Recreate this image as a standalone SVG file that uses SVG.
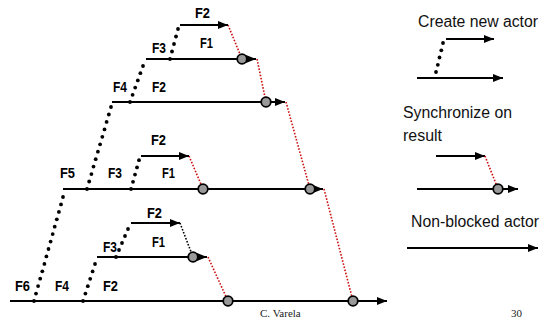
<svg xmlns="http://www.w3.org/2000/svg" width="545" height="320" viewBox="0 0 545 320">
<defs>
<marker id="arr" markerUnits="userSpaceOnUse" markerWidth="11" markerHeight="9" refX="10" refY="4" orient="auto">
<path d="M0,0 L10,4 L0,8 z" fill="#000"/>
</marker>
</defs>
<style>
.la{stroke:#000;stroke-width:2;fill:none;marker-end:url(#arr)}
.sync{stroke:#cc1111;stroke-width:1.6;stroke-dasharray:1.6 1.6;fill:none}
.syncb{stroke:#000;stroke-width:1.6;stroke-dasharray:1.6 1.6;fill:none}
.dot{fill:#000}
.ball{fill:#999;stroke:#000;stroke-width:1.8}
.lbl{font-family:"Liberation Sans",Arial,sans-serif;font-weight:bold;font-size:14.5px;fill:#000}
.leg{font-family:"Liberation Sans",Arial,sans-serif;font-size:16px;fill:#111}
.ft{font-family:"Liberation Serif","Times New Roman",serif;font-size:11px;fill:#222}
</style>
<rect width="545" height="320" fill="#fff"/>

<g id="connectors">
<line class="sync" x1="228" y1="25" x2="242" y2="59"/>
<line class="sync" x1="257" y1="59" x2="266" y2="102"/>
<line class="sync" x1="286" y1="102" x2="310" y2="189"/>
<line class="sync" x1="324" y1="189" x2="353" y2="301"/>
<line class="sync" x1="189" y1="156" x2="203" y2="189"/>
<line class="sync" x1="208" y1="257" x2="228" y2="301"/>
<line class="syncb" x1="180" y1="223" x2="193" y2="257"/>
<g id="create-bottom-l4" class="dot">
<circle cx="34" cy="301" r="1.9"/><circle cx="36" cy="293.6" r="1.9"/><circle cx="38.1" cy="286.1" r="1.9"/><circle cx="40.2" cy="278.7" r="1.9"/><circle cx="42.3" cy="271.3" r="1.9"/><circle cx="44.4" cy="263.9" r="1.9"/><circle cx="46.4" cy="256.4" r="1.9"/><circle cx="48.5" cy="249" r="1.9"/><circle cx="50.6" cy="241.6" r="1.9"/><circle cx="52.7" cy="234.1" r="1.9"/><circle cx="54.7" cy="226.7" r="1.9"/><circle cx="56.8" cy="219.3" r="1.9"/><circle cx="58.9" cy="211.9" r="1.9"/><circle cx="61" cy="204.4" r="1.9"/><circle cx="63" cy="197" r="1.9"/>
</g>
<g id="create-l4-l3" class="dot">
<circle cx="87" cy="189" r="1.9"/><circle cx="89.2" cy="181.5" r="1.9"/><circle cx="91.4" cy="174.1" r="1.9"/><circle cx="93.5" cy="166.6" r="1.9"/><circle cx="95.7" cy="159.2" r="1.9"/><circle cx="97.9" cy="151.7" r="1.9"/><circle cx="100.1" cy="144.3" r="1.9"/><circle cx="102.3" cy="136.8" r="1.9"/><circle cx="104.5" cy="129.4" r="1.9"/><circle cx="106.6" cy="121.9" r="1.9"/><circle cx="108.8" cy="114.5" r="1.9"/><circle cx="111" cy="107" r="1.9"/>
</g>
<g id="create-l3-l2" class="dot">
<circle cx="130" cy="102" r="1.9"/><circle cx="132.6" cy="94.8" r="1.9"/><circle cx="135.2" cy="87.6" r="1.9"/><circle cx="137.8" cy="80.4" r="1.9"/><circle cx="140.4" cy="73.2" r="1.9"/><circle cx="143" cy="66" r="1.9"/>
</g>
<g id="create-l2-l1" class="dot">
<circle cx="170" cy="59" r="1.9"/><circle cx="172" cy="51.5" r="1.9"/><circle cx="174" cy="44" r="1.9"/><circle cx="176" cy="36.5" r="1.9"/><circle cx="178" cy="29" r="1.9"/>
</g>
<g id="create-l4-l4b" class="dot">
<circle cx="131" cy="189" r="1.9"/><circle cx="133" cy="181.8" r="1.9"/><circle cx="135" cy="174.6" r="1.9"/><circle cx="137" cy="167.4" r="1.9"/><circle cx="139" cy="160.2" r="1.9"/>
</g>
<g id="create-bottom-l5" class="dot">
<circle cx="83" cy="301" r="1.9"/><circle cx="85.4" cy="293.6" r="1.9"/><circle cx="87.8" cy="286.2" r="1.9"/><circle cx="90.2" cy="278.8" r="1.9"/><circle cx="92.6" cy="271.4" r="1.9"/><circle cx="95" cy="264" r="1.9"/>
</g>
<g id="create-l5-l5b" class="dot">
<circle cx="116" cy="257" r="1.9"/><circle cx="119" cy="250" r="1.9"/><circle cx="122" cy="243" r="1.9"/><circle cx="125" cy="236" r="1.9"/><circle cx="128" cy="229" r="1.9"/>
</g>
</g>

<g id="actor-l1">
<line class="la" x1="180" y1="25" x2="228" y2="25"/>
<text class="lbl" x="195" y="18" textLength="15" lengthAdjust="spacingAndGlyphs">F2</text>
</g>
<g id="actor-l2">
<line class="la" x1="146" y1="59" x2="256" y2="59"/>
<circle class="ball" cx="242" cy="59" r="4.8"/>
<text class="lbl" x="152" y="53" textLength="14" lengthAdjust="spacingAndGlyphs">F3</text>
<text class="lbl" x="200" y="48" textLength="13" lengthAdjust="spacingAndGlyphs">F1</text>
</g>
<g id="actor-l3">
<line class="la" x1="112" y1="102" x2="285" y2="102"/>
<circle class="ball" cx="266" cy="102" r="4.8"/>
<text class="lbl" x="113" y="92" textLength="14" lengthAdjust="spacingAndGlyphs">F4</text>
<text class="lbl" x="152" y="92" textLength="14" lengthAdjust="spacingAndGlyphs">F2</text>
</g>
<g id="actor-l4b">
<line class="la" x1="141" y1="156" x2="189" y2="156"/>
<text class="lbl" x="151" y="145" textLength="15" lengthAdjust="spacingAndGlyphs">F2</text>
</g>
<g id="actor-l4">
<line class="la" x1="63" y1="189" x2="323" y2="189"/>
<circle class="ball" cx="203" cy="189" r="4.8"/>
<circle class="ball" cx="310" cy="189" r="4.8"/>
<text class="lbl" x="60" y="178" textLength="15" lengthAdjust="spacingAndGlyphs">F5</text>
<text class="lbl" x="108" y="178" textLength="14" lengthAdjust="spacingAndGlyphs">F3</text>
<text class="lbl" x="162" y="178" textLength="13" lengthAdjust="spacingAndGlyphs">F1</text>
</g>
<g id="actor-l5b">
<line class="la" x1="131" y1="223" x2="180" y2="223"/>
<text class="lbl" x="147" y="218" textLength="15" lengthAdjust="spacingAndGlyphs">F2</text>
</g>
<g id="actor-l5">
<line class="la" x1="97" y1="257" x2="207" y2="257"/>
<circle class="ball" cx="193" cy="257" r="4.8"/>
<text class="lbl" x="103" y="252" textLength="14" lengthAdjust="spacingAndGlyphs">F3</text>
<text class="lbl" x="152" y="247" textLength="13" lengthAdjust="spacingAndGlyphs">F1</text>
</g>
<g id="actor-bottom">
<line class="la" x1="10" y1="301" x2="387" y2="301"/>
<circle class="ball" cx="228" cy="301" r="4.8"/>
<circle class="ball" cx="353" cy="301" r="4.8"/>
<text class="lbl" x="15" y="291" textLength="15" lengthAdjust="spacingAndGlyphs">F6</text>
<text class="lbl" x="55" y="291" textLength="14" lengthAdjust="spacingAndGlyphs">F4</text>
<text class="lbl" x="103" y="291" textLength="15" lengthAdjust="spacingAndGlyphs">F2</text>
</g>

<g id="legend-create">
<text class="leg" x="418" y="27" textLength="120" lengthAdjust="spacingAndGlyphs">Create new actor</text>
<line class="la" x1="446" y1="39" x2="494" y2="39"/>
<line class="la" x1="417" y1="78" x2="503" y2="78"/>
<g class="dot">
<circle cx="436" cy="72" r="1.9"/><circle cx="437.8" cy="64.8" r="1.9"/><circle cx="439.5" cy="57.5" r="1.9"/><circle cx="441.3" cy="50.3" r="1.9"/><circle cx="443" cy="43" r="1.9"/>
</g>
</g>
<g id="legend-sync">
<text class="leg" x="403" y="118" textLength="109" lengthAdjust="spacingAndGlyphs">Synchronize on</text>
<text class="leg" x="403" y="141" textLength="39" lengthAdjust="spacingAndGlyphs">result</text>
<line class="la" x1="436" y1="156" x2="485" y2="156"/>
<line class="sync" x1="485" y1="156" x2="498" y2="189"/>
<line class="la" x1="417" y1="189" x2="518" y2="189"/>
<circle class="ball" cx="498" cy="189" r="4.8"/>
</g>
<g id="legend-nonblocked">
<text class="leg" x="411" y="227" textLength="128" lengthAdjust="spacingAndGlyphs">Non-blocked actor</text>
<line class="la" x1="407" y1="248" x2="538" y2="248"/>
</g>

<g id="footer">
<text class="ft" x="260" y="317">C. Varela</text>
<text class="ft" x="511" y="317">30</text>
</g>
</svg>
